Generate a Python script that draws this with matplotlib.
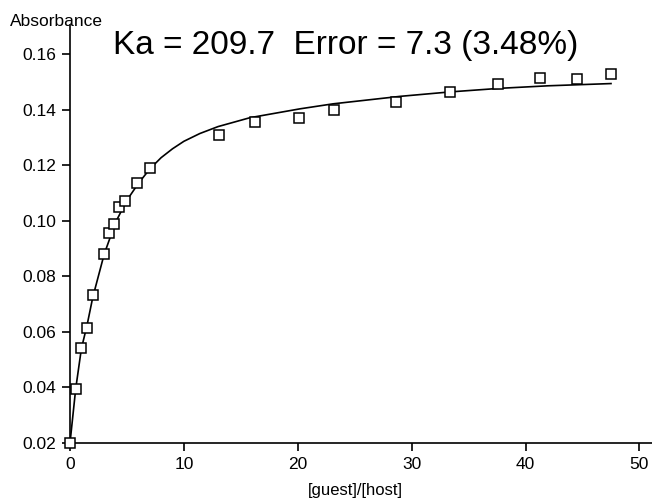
import numpy as np
import matplotlib.pyplot as plt

plt.rcParams['font.family'] = ['Liberation Sans', 'DejaVu Sans']

# measured points
ratio = [0.0, 0.53, 1.0, 1.5, 2.0, 3.0, 3.4, 3.9, 4.3, 4.8, 5.9, 7.05,
         13.1, 16.2, 20.1, 23.2, 28.6, 33.4, 37.6, 41.3, 44.5, 47.5]
absorb = [0.0201, 0.0396, 0.0542, 0.0613, 0.0735, 0.0881, 0.0958, 0.0988,
          0.1049, 0.1072, 0.1137, 0.1192, 0.1310, 0.1355, 0.1370, 0.1400,
          0.1430, 0.1465, 0.1494, 0.1516, 0.1512, 0.1530]

# fitted curve
fit_x = [0.0, 0.5, 1.0, 1.5, 2.0, 3.0, 4.0, 5.0, 6.0, 7.0, 8.0, 9.0, 10.0,
         11.4, 13.0, 15.8, 20.2, 23.1, 29.0, 33.4, 37.8, 42.0, 47.5]
fit_y = [0.0200, 0.0395, 0.0540, 0.0625, 0.0725, 0.0880, 0.0995, 0.1075,
         0.1135, 0.1187, 0.1228, 0.1260, 0.1287, 0.1315, 0.1340, 0.1372,
         0.1404, 0.1422, 0.1449, 0.1465, 0.1478, 0.1487, 0.1495]

xticks = [0, 10, 20, 30, 40, 50]
yticks = [0.02, 0.04, 0.06, 0.08, 0.10, 0.12, 0.14, 0.16]

fig = plt.figure(figsize=(6.52, 5.03), dpi=100)
ax = fig.add_axes([70/652, 60/503, 582/652, 418/503])

ax.plot(fit_x, fit_y, color='black', lw=1.2, zorder=2)
ax.plot(ratio, absorb, 's', ms=7, mfc='white', mec='black', mew=1.1,
        clip_on=False, zorder=3)

ax.set_xlim(0, 51.1)
ax.set_ylim(0.02, 0.1706)
ax.set_xticks(xticks)
ax.set_xticklabels([str(t) for t in xticks])
ax.set_yticks(yticks)
ax.set_yticklabels(['%.2f' % t for t in yticks])
ax.spines['top'].set_visible(False)
ax.spines['right'].set_visible(False)
for s in ['left', 'bottom']:
    ax.spines[s].set_linewidth(1.2)
ax.tick_params(direction='out', length=6, width=1.2, labelsize=12.5, pad=4)

fig.text(10/652, 1 - 21/503, 'Absorbance', fontsize=12.5, va='center', ha='left')
fig.text(355/652, 1 - 490/503, '[guest]/[host]', fontsize=12, va='center', ha='center')
fig.text(113/652, 1 - 54/503, 'Ka = 209.7  Error = 7.3 (3.48%)', fontsize=24,
         va='baseline', ha='left')

fig.savefig('out.png', dpi=100)
